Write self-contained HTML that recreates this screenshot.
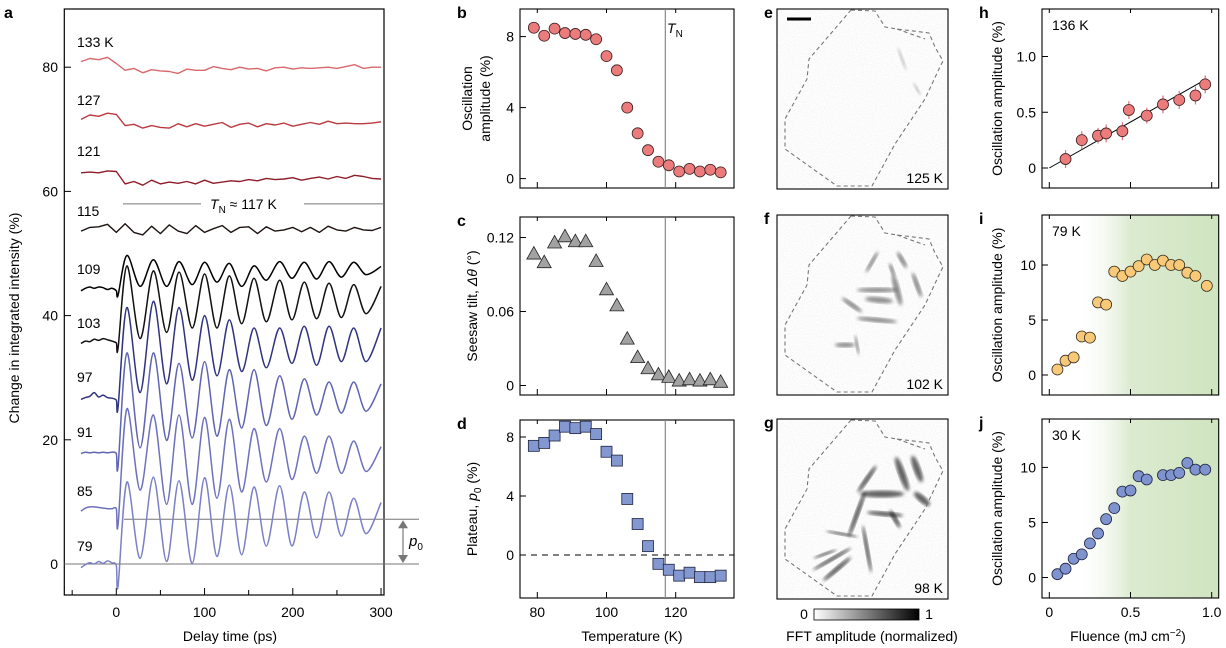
<!DOCTYPE html>
<html><head><meta charset="utf-8">
<style>
html,body{margin:0;padding:0;background:#fff;}
svg{display:block;font-family:"Liberation Sans",Arial,sans-serif;}
</style></head>
<body>
<svg id="fig" width="1226" height="648" viewBox="0 0 1226 648" xmlns="http://www.w3.org/2000/svg">
<defs>
 <linearGradient id="grn" x1="0" x2="1" y1="0" y2="0">
  <stop offset="0" stop-color="#ffffff" stop-opacity="0"/>
  <stop offset="0.18" stop-color="#ffffff" stop-opacity="0"/>
  <stop offset="0.5" stop-color="#dcebd0"/>
  <stop offset="1" stop-color="#cfe4c0"/>
 </linearGradient>
 <linearGradient id="cbar" x1="0" x2="1" y1="0" y2="0">
  <stop offset="0" stop-color="#ffffff"/><stop offset="1" stop-color="#000000"/>
 </linearGradient>
 <filter id="blur2"><feGaussianBlur stdDeviation="1.6"/></filter>
 <filter id="speck" x="0" y="0" width="1" height="1">
  <feTurbulence type="fractalNoise" baseFrequency="0.9" numOctaves="1" seed="3"/>
  <feColorMatrix type="matrix" values="0 0 0 0 0.4  0 0 0 0 0.4  0 0 0 0 0.4  0 0 0 -9 5.2"/>
 </filter>
</defs>
<g id="root"></g>
</svg>
<script>
// ---------- DATA: panel a ----------
const aPreTimes=[-40,-35,-30,-25,-20,-15,-10,-5,0];
const aPeakTimes=[12,42,71,100,128,156,185,213,241,269];
const aTroughTimes=[27,57,86,114,142,170,199,227,255,283];
const aLabels=["79","85","91","97","103","109"];
const pre79=[-0.6,-0.1,0.2,0.0,0.4,0.1,0.5,0.2,-0.2];
const dip79=-3.5, peaks79=[13.2,14.0,13.4,13.9,12.7,12.4,12.6,11.6,11.6,10.6], troughs79=[0.9,0.4,0.1,1.2,1.5,2.9,2.9,4.2,4.5,4.9], end79=9.9;
const pre85=[8.5,9.0,9.2,9.2,9.1,9.0,8.9,8.9,8.9];
const dip85=6.4, peaks85=[25,24,24,23.6,23.3,21.8,21.8,20.6,20.6,19.8], troughs85=[11.9,9.6,9.6,10.6,11.6,13.2,13.6,14.6,14.6,14.9], end85=18.9;
const pre91=[17.8,18.0,17.9,18.0,17.9,18.0,17.9,18.0,17.8];
const dip91=15.8, peaks91=[34,34,32.3,32.6,31.3,31.3,30.3,29.8,29.3,29.3], troughs91=[18.7,19.9,20.3,20.6,21.9,22.3,23.3,24,24.3,24.6], end91=29;
const pre97=[26.5,26.8,27.0,27.6,26.9,27.2,26.8,26.7,26.4];
const dip97=25.3, peaks97=[41.3,42.3,41.3,40,39.3,38,38,38.3,38.3,38], troughs97=[27.6,29,29.6,30.3,31,31.6,32.3,32,32.6,32.6], end97=38;
const pre103=[35.5,35.9,35.8,36.2,36.0,36.3,36.1,35.9,35.6];
const dip103=34.8, peaks103=[48,47.2,47,46.7,46.4,46,45.7,45.4,45.2,45], troughs103=[36.3,37.3,38,38,38.7,39,39.3,39.5,39.7,40.3], end103=44.7;
const pre109=[44.0,44.4,44.6,44.4,44.6,44.5,44.2,44.4,44.0];
const dip109=43.3, peaks109=[49.7,49,48.7,48.6,48.4,48,48.7,48.6,48.7,48.6], troughs109=[44.7,44.7,45,45.4,44.7,45.7,46,45.9,46.2,46.6], end109=47.9;
const flatTimes=[-40,-30,-20,-10,0,10,20,30,40,50,60,70,80,90,100,110,120,130,140,150,160,170,180,190,200,210,220,230,240,250,260,270,280,290,300];
const flat115=[53.6,54.2,54.3,54.7,53.4,54.8,53.4,53.0,54.4,53.2,54.6,53.6,53.2,54.5,53.4,54.0,54.5,53.4,54.2,54.3,53.2,54.3,53.6,53.8,54.2,53.5,54.2,53.4,54.4,53.8,53.6,54.2,53.8,53.7,54.2];
const flat121=[63.0,63.1,63.0,63.3,63.2,61.2,61.6,61.0,61.8,61.2,61.5,61.3,61.6,61.2,61.8,61.3,61.5,61.7,61.6,61.9,61.7,62.1,61.9,62.0,62.2,61.8,62.1,62.3,62.0,62.4,62.1,62.6,62.4,62.1,62.0];
const flat127=[71.6,72.3,72.1,72.6,72.4,70.6,70.8,70.2,70.6,70.3,70.2,70.9,70.4,70.9,70.5,70.8,71.1,70.3,70.8,71.0,70.4,70.9,70.7,71.0,70.5,70.8,71.1,70.8,71.3,70.9,71.0,70.9,70.9,71.0,71.2];
const flat133=[80.9,81.4,81.2,81.6,80.6,79.5,79.8,79.1,79.6,79.4,79.3,79.0,79.7,79.5,79.5,80.1,79.8,79.6,80.0,79.7,79.8,79.4,79.9,80.0,79.7,79.9,79.8,79.9,80.0,79.8,80.1,80.4,79.8,80.0,80.0];
const aYTicks=[0,20,40,60,80];
const aXTicks=[0,100,200,300];
const aXMinor=[-50,50,150,250];
const tnLevel=58, p0Level=7.2;
// ---------- DATA: panels b-d ----------
const temps=[79,82,85,88,91,94,97,100,103,106,109,112,115,118,121,124,127,130,133];
const oscAmp=[8.5,8.05,8.45,8.2,8.15,8.1,7.85,6.9,6.1,4.0,2.55,1.6,0.95,0.75,0.4,0.55,0.4,0.5,0.35];
const tilt=[0.107,0.100,0.116,0.121,0.117,0.117,0.101,0.078,0.065,0.038,0.023,0.014,0.009,0.007,0.004,0.005,0.004,0.005,0.003];
const plateau=[7.4,7.6,8.1,8.7,8.6,8.7,8.2,7.0,6.4,3.8,2.1,0.6,-0.6,-1.0,-1.4,-1.2,-1.5,-1.5,-1.4];
const tempTicks=[80,100,120];
const bTicks=[0,4,8], cTicks=[0,0.06,0.12], cTickLabels=["0","0.06","0.12"], dTicks=[0,4,8];
const TN=117;
// ---------- DATA: panels h-j ----------
const fluH=[0.1,0.2,0.3,0.35,0.45,0.49,0.6,0.7,0.8,0.9,0.96];
const ampH=[0.08,0.25,0.29,0.31,0.33,0.52,0.47,0.57,0.61,0.65,0.75];
const errH=[0.08,0.08,0.07,0.08,0.08,0.08,0.07,0.08,0.08,0.08,0.08];
const fitH=[[0,0],[0.97,0.8]];
const fluI=[0.05,0.1,0.15,0.2,0.25,0.3,0.35,0.4,0.45,0.5,0.55,0.6,0.65,0.7,0.75,0.8,0.85,0.9,0.97];
const ampI=[0.5,1.3,1.6,3.5,3.4,6.6,6.4,9.4,9.0,9.4,9.9,10.5,10.0,10.4,10.0,10.0,9.3,9.0,8.1];
const fluJ=[0.05,0.1,0.15,0.2,0.25,0.3,0.35,0.4,0.45,0.5,0.55,0.6,0.7,0.75,0.8,0.85,0.9,0.96];
const ampJ=[0.3,0.8,1.7,2.1,3.1,4.0,5.3,6.3,7.8,7.9,9.2,8.9,9.3,9.3,9.5,10.4,9.8,9.8];
const fluTicks=[0,0.5,1.0], fluTickLabels=["0","0.5","1.0"];
const hTicks=[0,0.5,1.0], hTickLabels=["0","0.5","1.0"], ijTicks=[0,5,10];

const NS="http://www.w3.org/2000/svg";
const root=document.getElementById('root');
function mk(tag,attrs,parent,text){const e=document.createElementNS(NS,tag);for(const k in attrs)e.setAttribute(k,attrs[k]);if(text!==undefined)e.textContent=text;(parent||root).appendChild(e);return e;}
function grp(name){const g=mk('g',{});return g;}
function smooth(P){
 let d='M'+P[0][0].toFixed(1)+','+P[0][1].toFixed(1);
 for(let i=0;i<P.length-1;i++){const p0=P[Math.max(0,i-1)],p1=P[i],p2=P[i+1],p3=P[Math.min(P.length-1,i+2)];const k=0.16;
  d+=` C${(p1[0]+(p2[0]-p0[0])*k).toFixed(1)},${(p1[1]+(p2[1]-p0[1])*k).toFixed(1)} ${(p2[0]-(p3[0]-p1[0])*k).toFixed(1)},${(p2[1]-(p3[1]-p1[1])*k).toFixed(1)} ${p2[0].toFixed(1)},${p2[1].toFixed(1)}`;}
 return d;}

// ---------- Panel a ----------
const ax=t=>116.3+t*0.8825, ay=v=>564-v*6.21;
const gA=grp('panel-a');
mk('text',{x:4,y:18,'font-size':16,'font-weight':'bold'},gA,'a');
mk('rect',{x:64.3,y:9,width:319.7,height:586,fill:'none',stroke:'#000','stroke-width':1.2},gA);
aYTicks.forEach(v=>{mk('line',{x1:64.3,x2:71,y1:ay(v),y2:ay(v),stroke:'#000'},gA);const t=mk('text',{x:58,y:ay(v)+5,'font-size':14,'text-anchor':'end'},gA,String(v));});
aXTicks.forEach(v=>{mk('line',{x1:ax(v),x2:ax(v),y1:595,y2:588,stroke:'#000'},gA);const t=mk('text',{x:ax(v),y:617,'font-size':14,'text-anchor':'middle'},gA,String(v));});
aXMinor.forEach(v=>mk('line',{x1:ax(v),x2:ax(v),y1:595,y2:590,stroke:'#000'},gA));
let tt=mk('text',{x:230,y:641,'font-size':14,'text-anchor':'middle'},gA,'Delay time (ps)');
tt=mk('text',{x:0,y:0,'font-size':14,'text-anchor':'middle',transform:'translate(19,318) rotate(-90)'},gA,'Change in integrated intensity (%)');
mk('line',{x1:64.3,x2:419,y1:ay(0),y2:ay(0),stroke:'#777','stroke-width':1},gA);
mk('line',{x1:124,x2:419,y1:ay(p0Level),y2:ay(p0Level),stroke:'#777','stroke-width':1},gA);
mk('line',{x1:123,x2:201,y1:ay(tnLevel),y2:ay(tnLevel),stroke:'#777','stroke-width':1},gA);
mk('line',{x1:304,x2:383,y1:ay(tnLevel),y2:ay(tnLevel),stroke:'#777','stroke-width':1},gA);
const tn=mk('text',{x:210,y:ay(tnLevel)+5,'font-size':14},gA);
mk('tspan',{'font-style':'italic'},tn,'T');mk('tspan',{'font-size':10,dy:4},tn,'N');mk('tspan',{dy:-4},tn,' ≈ 117 K');

const arr=grp('p0-arrow');
mk('line',{x1:403,x2:403,y1:ay(p0Level)+6,y2:ay(0)-6,stroke:'#777','stroke-width':1.2},arr);
mk('path',{d:`M398,${ay(p0Level)+9} L403,${ay(p0Level)+1} L408,${ay(p0Level)+9} Z`,fill:'#777'},arr);
mk('path',{d:`M398,${ay(0)-9} L403,${ay(0)-1} L408,${ay(0)-9} Z`,fill:'#777'},arr);
const p0t=mk('text',{x:409,y:546,'font-size':15},gA);mk('tspan',{'font-style':'italic'},p0t,'p');mk('tspan',{'font-size':10,dy:4},p0t,'0');
const oscSets=[
 ["79",pre79,dip79,peaks79,troughs79,end79,"#7c80c6"],
 ["85",pre85,dip85,peaks85,troughs85,end85,"#6e72bd"],
 ["91",pre91,dip91,peaks91,troughs91,end91,"#6064b4"],
 ["97",pre97,dip97,peaks97,troughs97,end97,"#30337f"],
 ["103",pre103,dip103,peaks103,troughs103,end103,"#111"],
 ["109",pre109,dip109,peaks109,troughs109,end109,"#000"]];
oscSets.forEach(s=>{
 const pts=[];aPreTimes.forEach((t,i)=>pts.push([t,s[1][i]]));
 pts.push([2,s[2]]);
 aPeakTimes.forEach((t,i)=>{pts.push([t,s[3][i]]);pts.push([aTroughTimes[i],s[4][i]]);});
 pts.push([300,s[5]]);
 const p=mk('path',{d:smooth(pts.map(q=>[ax(q[0]),ay(q[1])])),fill:'none',stroke:s[6],'stroke-width':1.5,'stroke-linejoin':'round'},gA);
 
});
[["115",flat115,"#1e1212"],["121",flat121,"#8e1d28"],["127",flat127,"#bb3a40"],["133",flat133,"#d9686c"]].forEach(s=>{
 const p=mk('polyline',{points:flatTimes.map((t,i)=>ax(t).toFixed(1)+','+ay(s[1][i]).toFixed(1)).join(' '),fill:'none',stroke:s[2],'stroke-width':1.4,'stroke-linejoin':'round'},gA);
 
});
const labs=[["133 K",47],["127",105],["121",156],["115",216],["109",274],["103",328],["97",382],["91",437],["85",496],["79",551]];
labs.forEach(l=>{const t=mk('text',{x:77,y:l[1],'font-size':14},gA,l[0]);});

// ---------- Panels b,c,d ----------
const bx=T=>537.3+(T-80)*3.46;
function tPanel(name,letter,top,bot,yfn,ticks,tickLabels,titleLines){
 const g=grp(name);
 mk('text',{x:457,y:top+9,'font-size':16,'font-weight':'bold'},g,letter);
 mk('rect',{x:520,y:top,width:214,height:bot-top,fill:'none',stroke:'#000','stroke-width':1.1},g);
 mk('line',{x1:bx(TN),x2:bx(TN),y1:top,y2:bot,stroke:'#888','stroke-width':1.2},g);
 ticks.forEach((v,i)=>{mk('line',{x1:520,x2:526,y1:yfn(v),y2:yfn(v),stroke:'#000'},g);const t=mk('text',{x:514,y:yfn(v)+5,'font-size':14,'text-anchor':'end'},g,tickLabels[i]);});
 tempTicks.forEach(v=>{mk('line',{x1:bx(v),x2:bx(v),y1:bot,y2:bot-6,stroke:'#000'},g);mk('line',{x1:bx(v),x2:bx(v),y1:top,y2:top+4,stroke:'#000'},g);});
 titleLines.forEach((tl,i)=>{const t=mk('text',{'font-size':14,'text-anchor':'middle',transform:`translate(${tl[0]},${(top+bot)/2}) rotate(-90)`},g);tl[1](t);});
 return g;
}
const by=v=>178.6-v*17.75, cy=v=>385.5-v*1233, dy=v=>555-v*14.75;
const gB=tPanel('panel-b','b',9,188,by,bTicks,bTicks.map(String),[[472,t=>{t.textContent='Oscillation';}],[490,t=>{t.textContent='amplitude (%)';}]]);
const tnb=mk('text',{x:667,y:33,'font-size':14},gB);mk('tspan',{'font-style':'italic'},tnb,'T');mk('tspan',{'font-size':10,dy:4},tnb,'N');
temps.forEach((T,i)=>{const c=mk('circle',{cx:bx(T),cy:by(oscAmp[i]),r:5.5,fill:'#ec7b7c',stroke:'#3a2020','stroke-width':0.8},gB);});
const gC=tPanel('panel-c','c',217,395,cy,cTicks,cTickLabels,[[477,t=>{t.textContent='Seesaw tilt, ';mk('tspan',{'font-style':'italic'},t,'Δθ');mk('tspan',{},t,' (°)');}]]);
temps.forEach((T,i)=>{const x=bx(T),y=cy(tilt[i]);const p=mk('path',{d:`M${x-7},${y+5.5} L${x},${y-7} L${x+7},${y+5.5} Z`,fill:'#a2a2a2',stroke:'#222','stroke-width':0.8},gC);});
const gD=tPanel('panel-d','d',420,598,dy,dTicks,dTicks.map(String),[[477,t=>{t.textContent='Plateau, ';mk('tspan',{'font-style':'italic'},t,'p');mk('tspan',{'font-size':10,dy:4},t,'0');mk('tspan',{dy:-4},t,' (%)');}]]);
mk('line',{x1:520,x2:734,y1:dy(0),y2:dy(0),stroke:'#000','stroke-dasharray':'6,5','stroke-width':1},gD);
temps.forEach((T,i)=>{const r=mk('rect',{x:bx(T)-5.5,y:dy(plateau[i])-5.5,width:11,height:11,fill:'#8397d0',stroke:'#1f2440','stroke-width':0.8},gD);});
tempTicks.forEach(v=>{const t=mk('text',{x:bx(v),y:617,'font-size':14,'text-anchor':'middle'},gD,String(v));});
tt=mk('text',{x:632,y:641,'font-size':14,'text-anchor':'middle'},gD,'Temperature (K)');

// ---------- Panels e,f,g ----------
const poly=[[74,1],[98,2],[108,18],[120,20],[152,24],[158,38],[166,52],[162,60],[148,90],[118,135],[95,177],[60,177],[8,140],[8,110],[30,70],[32,50],[74,1]];
const streaksF=[[95,47,12,2,-60],[100,75,20,2.5,0],[102,85,14,3,5],[100,105,20,2.5,5],[75,90,12,2.5,35],[68,130,10,2.5,0],[120,75,16,3,75],[140,70,13,2.5,70],[125,45,9,2.5,60],[80,130,10,1.5,80],[115,55,7,2,70]];
const streaksG=[[90,60,16,2.5,-55],[105,75,22,3.5,0],[108,95,18,2.5,5],[80,95,24,2.5,-70],[60,150,18,2.5,-40],[55,140,22,2,-30],[125,55,18,3.5,70],[140,50,14,3.5,70],[145,80,10,3.5,40],[90,130,24,2,80],[65,115,16,1.5,10],[118,100,10,2.5,60],[48,135,12,1.5,-20]];
const streaksE=[[125,50,12,1.5,70],[140,80,7,1.5,60]];
function fftPanel(name,letter,top,label,streaks,darkness){
 const g=grp(name);
 const ox=777,w=171,h=180;
 mk('rect',{x:ox,y:top,width:w,height:h,fill:'#fff',stroke:'#000','stroke-width':1.1},g);
 mk('rect',{x:ox+1,y:top+1,width:w-2,height:h-2,filter:'url(#speck)',opacity:0.08},g);
 streaks.forEach(s=>{const e=mk('ellipse',{cx:ox+s[0],cy:top+s[1],rx:s[2],ry:s[3],fill:'#222',opacity:darkness,filter:'url(#blur2)',transform:`rotate(${s[4]} ${ox+s[0]} ${top+s[1]})`},g);});
 const pl=mk('polyline',{points:poly.map(p=>(ox+p[0])+','+(top+p[1])).join(' '),fill:'none',stroke:'#777','stroke-width':1.1,'stroke-dasharray':'4,3'},g);
 
 mk('polyline',{points:`${ox+120},${top+20} ${ox+148},${top+30}`,fill:'none',stroke:'#777','stroke-width':1.1,'stroke-dasharray':'4,3'},g);
 const t=mk('text',{x:ox+w-5,y:top+h-6,'font-size':14,'text-anchor':'end'},g,label);
 mk('text',{x:764,y:top+9,'font-size':16,'font-weight':'bold'},g,letter);
 return g;
}
const gE=fftPanel('panel-e','e',9,'125 K',streaksE,0.25);
const sb=mk('line',{x1:787,x2:811,y1:19,y2:19,stroke:'#000','stroke-width':3},gE);
fftPanel('panel-f','f',215,'102 K',streaksF,0.5);
fftPanel('panel-g','g',419,'98 K',streaksG,0.7);
const cb=grp('colorbar');
mk('rect',{x:814,y:609,width:105,height:11,fill:'url(#cbar)',stroke:'#000','stroke-width':0.8},cb);
mk('text',{x:804,y:619,'font-size':14,'text-anchor':'middle'},cb,'0');
mk('text',{x:929,y:619,'font-size':14,'text-anchor':'middle'},cb,'1');
mk('text',{x:872,y:641,'font-size':14,'text-anchor':'middle'},cb,'FFT amplitude (normalized)');

// ---------- Panels h,i,j ----------
const fx=f=>1049.3+f*162.4;
function fPanel(name,letter,top,bot,yfn,ticks,tickLabels,label,shade){
 const g=grp(name);
 mk('text',{x:979,y:top+9,'font-size':16,'font-weight':'bold'},g,letter);
 if(shade)mk('rect',{x:1042,y:top,width:176.7,height:bot-top,fill:'url(#grn)'},g);
 mk('rect',{x:1042,y:top,width:176.7,height:bot-top,fill:'none',stroke:'#000','stroke-width':1.1},g);
 ticks.forEach((v,i)=>{mk('line',{x1:1042,x2:1048,y1:yfn(v),y2:yfn(v),stroke:'#000'},g);const t=mk('text',{x:1036,y:yfn(v)+5,'font-size':14,'text-anchor':'end'},g,tickLabels[i]);});
 fluTicks.forEach(v=>{mk('line',{x1:fx(v),x2:fx(v),y1:bot,y2:bot-6,stroke:'#000'},g);mk('line',{x1:fx(v),x2:fx(v),y1:top,y2:top+4,stroke:'#000'},g);});
 const t=mk('text',{'font-size':14,'text-anchor':'middle',transform:`translate(1002,${(top+bot)/2}) rotate(-90)`},g,'Oscillation amplitude (%)');
 const l=mk('text',{x:1052,y:top+21,'font-size':14},g,label);
 return g;
}
const hy=v=>168-v*111.5, iy=v=>375-v*11, jy=v=>577.5-v*11.01;
const gH=fPanel('panel-h','h',9,188,hy,hTicks,hTickLabels,'136 K',false);
const fl=mk('line',{x1:fx(fitH[0][0]),y1:hy(fitH[0][1]),x2:fx(fitH[1][0]),y2:hy(fitH[1][1]),stroke:'#000','stroke-width':1},gH);
fluH.forEach((f,i)=>{const e=mk('line',{x1:fx(f),x2:fx(f),y1:hy(ampH[i]-errH[i]),y2:hy(ampH[i]+errH[i]),stroke:'#e0707a','stroke-width':1.2},gH);});
fluH.forEach((f,i)=>{const c=mk('circle',{cx:fx(f),cy:hy(ampH[i]),r:5.5,fill:'#ec7b7c',stroke:'#3a2020','stroke-width':0.8},gH);});
const gI=fPanel('panel-i','i',215,395,iy,ijTicks,ijTicks.map(String),'79 K',true);
fluI.forEach((f,i)=>{const c=mk('circle',{cx:fx(f),cy:iy(ampI[i]),r:5.5,fill:'#f7c978',stroke:'#3a3020','stroke-width':0.8},gI);});
const gJ=fPanel('panel-j','j',419,598,jy,ijTicks,ijTicks.map(String),'30 K',true);
fluJ.forEach((f,i)=>{const c=mk('circle',{cx:fx(f),cy:jy(ampJ[i]),r:5.5,fill:'#7f93cf',stroke:'#1f2440','stroke-width':0.8},gJ);});
fluTicks.forEach((v,i)=>{const t=mk('text',{x:fx(v),y:617,'font-size':14,'text-anchor':'middle'},gJ,fluTickLabels[i]);});
const ft=mk('text',{x:1128,y:641,'font-size':14,'text-anchor':'middle'},gJ,'Fluence (mJ cm');mk('tspan',{'font-size':10,dy:-5},ft,'−2');mk('tspan',{dy:5},ft,')');

</script>
</body></html>
